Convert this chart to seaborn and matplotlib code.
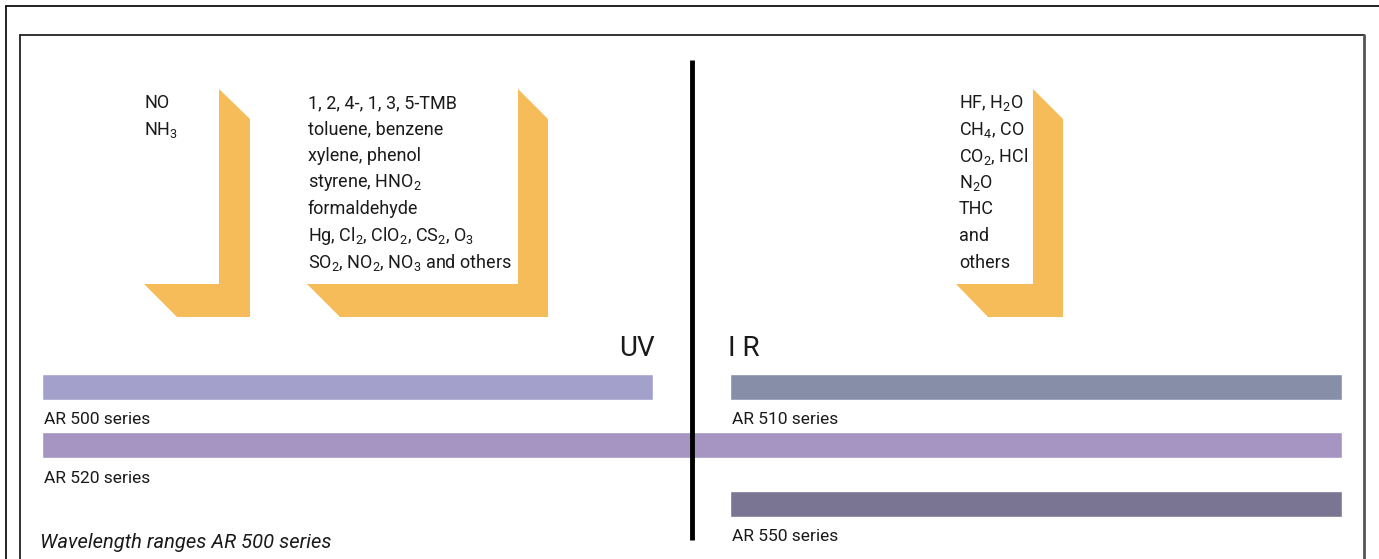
import matplotlib
matplotlib.use("Agg")
import matplotlib.pyplot as plt
import seaborn as sns
import numpy as np
from matplotlib.patches import Polygon

# ---------------- data ----------------
series = ["AR 500 series", "AR 510 series", "AR 520 series", "AR 550 series"]
range_start = [42, 730, 42, 730]
range_end = [653, 1342, 1342, 1342]
row = [0, 0, 1, 2]
bar_colors = ["#a3a0cc", "#878ea8", "#a694c2", "#797592"]

gases_uv_1 = ["NO", "NH$_3$"]
gases_uv_2 = ["1, 2, 4-, 1, 3, 5-TMB", "toluene, benzene", "xylene, phenol",
              "styrene, HNO$_2$", "formaldehyde", "Hg, Cl$_2$, ClO$_2$, CS$_2$, O$_3$",
              "SO$_2$, NO$_2$, NO$_3$ and others"]
gases_ir = ["HF, H$_2$O", "CH$_4$, CO", "CO$_2$, HCl", "N$_2$O", "THC", "and", "others"]
region_labels = ["UV", "I R"]
caption = "Wavelength ranges AR 500 series"

# ---------------- style ----------------
sns.set_theme(style="white")
FONT = "Roboto"
plt.rcParams["font.family"] = [FONT, "DejaVu Sans"]
plt.rcParams["mathtext.fontset"] = "custom"
plt.rcParams["mathtext.rm"] = FONT
plt.rcParams["mathtext.it"] = FONT + ":italic"
plt.rcParams["mathtext.default"] = "rm"

W, H = 1379, 559
fig = plt.figure(figsize=(W / 100, H / 100), dpi=100)
ax = fig.add_axes([0, 0, 1, 1])
ax.set_xlim(0, W)
ax.set_ylim(H, 0)
ax.axis("off")

# frames
ax.plot([6, W], [6, 6], color="#111111", lw=1.3)
ax.plot([6, 6], [6, H], color="#111111", lw=1.3)
ax.plot([20, 1364], [35, 35], color="#222222", lw=1.3)
ax.plot([20, 20], [35, H], color="#222222", lw=1.3)
ax.plot([1364, 1364], [35, H], color="#555555", lw=2)

# bars
row_y0, row_step, bar_h = 386.5, 58.6, 26
ys = [row_y0 + r * row_step for r in row]
widths = [e - s for s, e in zip(range_start, range_end)]
ax.barh(ys, widths, left=range_start, height=bar_h, color=bar_colors, zorder=2)
for s, y, name in zip(range_start, ys, series):
    ax.text(s + 2, y + bar_h / 2 + 20, name, fontsize=12.5, va="center", ha="left",
            color="#1a1a1a")

# vertical divider
ax.plot([692, 692], [60, 540], color="black", lw=3.5, zorder=3, solid_capstyle="butt")

# L-shaped orange brackets
ORANGE = "#f5bc59"
def bracket(xl, xr, xbl, xbb, top=89, bevel=30, inner=284, bottom=317):
    pts = [(xl, top), (xr, top + bevel), (xr, bottom), (xbb, bottom),
           (xbl, inner), (xl, inner)]
    ax.add_patch(Polygon(pts, closed=True, color=ORANGE, lw=0, zorder=1))

bracket(219, 250, 144, 177)
bracket(518, 548, 307, 340)
bracket(1033, 1063, 956, 988)

# gas lists
line_step = 26.6
def gas_list(x, items):
    for i, t in enumerate(items):
        ax.text(x, 103 + i * line_step, t, fontsize=13, va="center", ha="left",
                color="#1a1a1a")

gas_list(144, gases_uv_1)
gas_list(308, gases_uv_2)
gas_list(959, gases_ir)

# region labels
ax.text(655, 348, region_labels[0], fontsize=20, ha="right", va="center", color="#1a1a1a")
ax.text(728, 348, region_labels[1], fontsize=20, ha="left", va="center", color="#1a1a1a")

# caption
ax.text(40, 542, caption, fontsize=14.5, style="italic", ha="left", va="center",
        color="#1a1a1a")

fig.savefig("out.png", dpi=100)
